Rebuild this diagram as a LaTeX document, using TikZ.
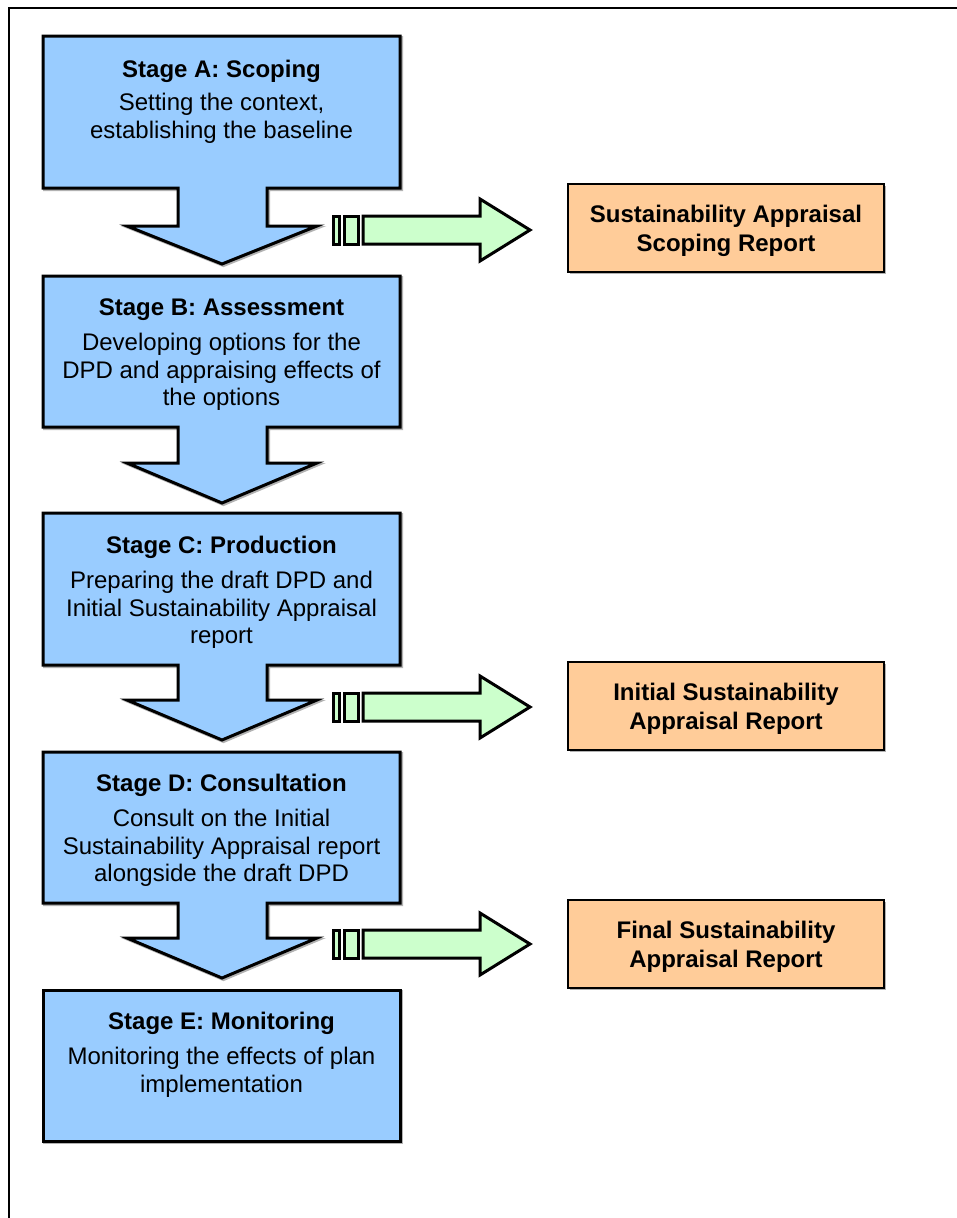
\documentclass[tikz,border=0pt]{standalone}
\usepackage{fontspec}
\setmainfont{Liberation Sans}
\definecolor{stageblue}{HTML}{99CCFF}
\definecolor{reportorange}{HTML}{FFCC99}
\definecolor{flowgreen}{HTML}{CCFFCC}
\newcommand\stagearrowpath[4]{(43,#1) -- (400,#1) -- (400,#2) -- (267,#2) -- (267,#3) -- (317,#3) -- (222,#4) -- (127,#3) -- (178,#3) -- (178,#2) -- (43,#2) -- cycle}
\newcommand\sidearrow[1]{%
  \draw[greenarrow] (333,#1-14) rectangle (339,#1+14);
  \draw[greenarrow] (344,#1-14) rectangle (358,#1+14);
  \draw[greenarrow] (363,#1-14) -- (480,#1-14) -- (480,#1-31) -- (530,#1) -- (480,#1+31) -- (480,#1+14) -- (363,#1+14) -- cycle;
}
\begin{document}
\begin{tikzpicture}[x=1pt,y=-1pt,line join=miter]
\tikzset{
  stageshape/.style={draw=black, line width=3pt, fill=stageblue},
  shadowshape/.style={fill=black!30, draw=black!30, line width=3pt},
  greenarrow/.style={draw=black, line width=3pt, fill=flowgreen},
  reportbox/.style={draw=black, line width=2pt, fill=reportorange, minimum width=316pt, minimum height=88pt, inner sep=0pt},
  reporttext/.style={inner sep=0pt, align=center, font=\fontsize{24}{28.5}\selectfont\bfseries},
  stagetitle/.style={anchor=base, inner sep=0pt, font=\fontsize{24}{27.6}\selectfont\bfseries},
  stagebody/.style={anchor=north, inner sep=0pt, align=center, font=\fontsize{24}{27.6}\selectfont},
}
\useasboundingbox (0,0) rectangle (957,1218);
\fill[white] (0,0) rectangle (957,1218);
\draw[line width=2pt] (9,1218) -- (9,8) -- (957,8);

% Stage shapes (shadow then shape)
\fill[shadowshape, shift={(1.5,1.5)}] \stagearrowpath{36}{188}{226}{264};
\draw[stageshape] \stagearrowpath{36}{188}{226}{264};
\fill[shadowshape, shift={(1.5,1.5)}] \stagearrowpath{276}{427}{463}{503};
\draw[stageshape] \stagearrowpath{276}{427}{463}{503};
\fill[shadowshape, shift={(1.5,1.5)}] \stagearrowpath{513}{665}{700}{740};
\draw[stageshape] \stagearrowpath{513}{665}{700}{740};
\fill[shadowshape, shift={(1.5,1.5)}] \stagearrowpath{752}{903}{938}{978};
\draw[stageshape] \stagearrowpath{752}{903}{938}{978};
\fill[shadowshape, shift={(1.5,1.5)}] (43,990) rectangle (400,1141);
\draw[stageshape] (43,990) rectangle (400,1141);

% Stage texts
\node[stagetitle] (tA) at (221.5,77) {Stage A: Scoping};
\node[stagebody] (bA) at (221.5,91) {\strut Setting the context,\\establishing the baseline};
\node[stagetitle] (tB) at (221.5,315) {Stage B: Assessment};
\node[stagebody] (bB) at (221.5,331) {\strut Developing options for the\\DPD and appraising effects of\\the options};
\node[stagetitle] (tC) at (221.5,553) {Stage C: Production};
\node[stagebody] (bC) at (221.5,569) {\strut Preparing the draft DPD and\\Initial Sustainability Appraisal\\report};
\node[stagetitle] (tD) at (221.5,791) {Stage D: Consultation};
\node[stagebody] (bD) at (221.5,807) {\strut Consult on the Initial\\Sustainability Appraisal report\\alongside the draft DPD};
\node[stagetitle] (tE) at (221.5,1029) {Stage E: Monitoring};
\node[stagebody] (bE) at (221.5,1045) {\strut Monitoring the effects of plan\\implementation};

% Report boxes
\fill[black!30] (570,186) rectangle (886,274);
\node[reportbox] (repA) at (726,228) {};
\node[reporttext] (txA) at ([yshift=-3pt]repA.center) {Sustainability Appraisal\\Scoping Report};
\fill[black!30] (570,664) rectangle (886,752);
\node[reportbox] (repC) at (726,706) {};
\node[reporttext] (txC) at ([yshift=-3pt]repC.center) {Initial Sustainability\\Appraisal Report};
\fill[black!30] (570,902) rectangle (886,990);
\node[reportbox] (repD) at (726,944) {};
\node[reporttext] (txD) at ([yshift=-3pt]repD.center) {Final Sustainability\\Appraisal Report};

% Green arrows
\sidearrow{230}
\sidearrow{707}
\sidearrow{944}
\end{tikzpicture}
\end{document}
